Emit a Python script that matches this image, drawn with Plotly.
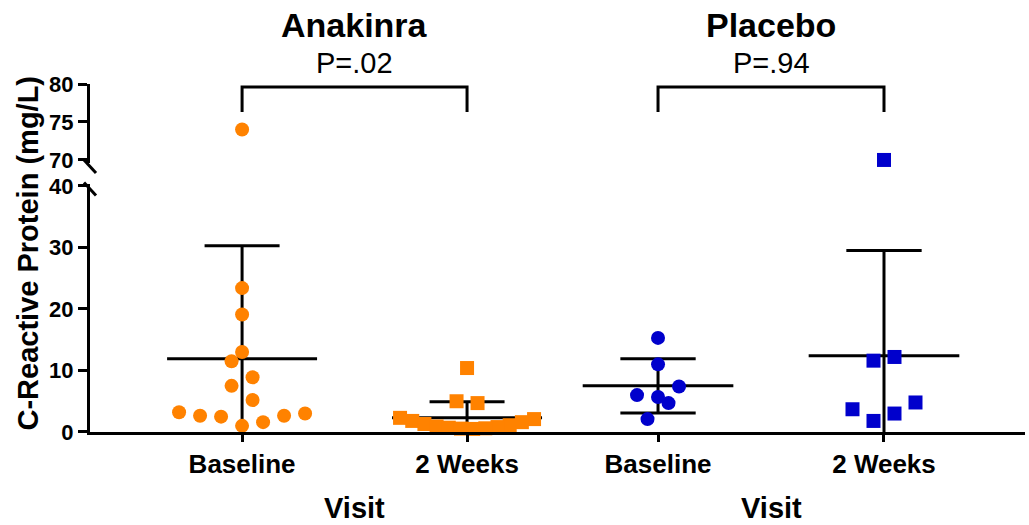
import plotly.graph_objects as go

# ---------------- data ----------------
GROUPS = ["Anakinra", "Placebo"]
VISITS = ["Baseline", "2 Weeks"]
P_VALUES = ["P=.02", "P=.94"]

anakinra_baseline = [74.0, 23.4, 19.1, 13.0, 11.5, 8.9, 7.5, 5.2, 3.2, 2.65, 2.5, 2.65, 3.0, 1.6, 1.0]
anakinra_week2 = [10.4, 5.0, 4.7, 2.3, 2.1, 1.8, 1.6, 1.3, 1.1, 0.9, 0.8, 0.7, 0.6, 0.55, 0.5]
placebo_baseline = [15.3, 11.0, 7.4, 6.0, 5.7, 4.7, 2.1]
placebo_week2 = [70.0, 12.2, 11.6, 4.8, 3.7, 3.0, 1.8]

anakinra_mean = [11.9, 2.3]
anakinra_sd = [18.4, 2.6]
placebo_mean = [7.5, 12.4]
placebo_sd = [4.4, 17.1]

lower_ticks = [0, 10, 20, 30, 40]
upper_ticks = [70, 75, 80]

# ---------------- layout constants ----------------
W, H = 1029, 525
ML, MR, MT, MB = 90, 4, 84, 93
PLOT_W = W - ML - MR
PLOT_H = H - MT - MB
LOWER_RANGE = [0, 40.4]
UPPER_RANGE = [69.6, 80]
LOWER_DOM = [0, 0.714]
UPPER_DOM = [0.773, 1]
SPLIT = 0.5048
X1_RANGE = [-0.676, 1.422]
X2_RANGE = [-0.425, 1.624]
ORANGE = "#FF8200"
BLUE = "#0000CC"
FONT = "Liberation Sans, Arial, sans-serif"
LW = 3
MEAN_HALF = 1 / 3
CAP_HALF = 1 / 6

lower_ppu = PLOT_H * (LOWER_DOM[1] - LOWER_DOM[0]) / (LOWER_RANGE[1] - LOWER_RANGE[0])
upper_ppu = PLOT_H * (UPPER_DOM[1] - UPPER_DOM[0]) / (UPPER_RANGE[1] - UPPER_RANGE[0])
x1_ppu = PLOT_W * SPLIT / (X1_RANGE[1] - X1_RANGE[0])
x2_ppu = PLOT_W * (1 - SPLIT) / (X2_RANGE[1] - X2_RANGE[0])


def y_px(v):
    if v <= LOWER_RANGE[1]:
        return v * lower_ppu
    return 1000 + (v - UPPER_RANGE[0]) * upper_ppu


def swarm(values, x_ppu, start, row_px=20, step_px=21, max_half_px=67):
    """Prism-like row arrangement: returns x offsets in data units."""
    order = sorted(range(len(values)), key=lambda i: values[i])
    rows, cur = [], []
    for i in order:
        if cur and y_px(values[i]) - y_px(values[cur[0]]) >= row_px:
            rows.append(cur)
            cur = []
        cur.append(i)
    rows.append(cur)
    off = [0.0] * len(values)
    for row in rows:
        m = len(row)
        step = step_px if m < 2 else min(step_px, 2 * max_half_px / (m - 1))
        for k, i in enumerate(row):
            if m % 2 == 1:
                slot = 0 if k == 0 else ((k + 1) // 2) * (1 if k % 2 == 1 else -1)
            else:
                slot = (k // 2 + 0.5) * (1 if k % 2 == 0 else -1)
            off[i] = start * slot * step / x_ppu
    return off


fig = go.Figure()

panels = [
    dict(name=GROUPS[0], xa="x", ppu=x1_ppu, color=ORANGE, start=1,
         data=[anakinra_baseline, anakinra_week2], mean=anakinra_mean, sd=anakinra_sd,
         symbols=["circle", "square"]),
    dict(name=GROUPS[1], xa="x2", ppu=x2_ppu, color=BLUE, start=-1,
         data=[placebo_baseline, placebo_week2], mean=placebo_mean, sd=placebo_sd,
         symbols=["circle", "square"]),
]

# error bars / means first (points drawn on top)
for p in panels:
    xs, ys = [], []
    for j, (m, s) in enumerate(zip(p["mean"], p["sd"])):
        xs += [j - MEAN_HALF, j + MEAN_HALF, None]
        ys += [m, m, None]
        xs += [j, j, None]
        ys += [m - s, m + s, None]
        xs += [j - CAP_HALF, j + CAP_HALF, None]
        ys += [m + s, m + s, None]
        xs += [j - CAP_HALF, j + CAP_HALF, None]
        ys += [m - s, m - s, None]
    fig.add_trace(go.Scatter(x=xs, y=ys, xaxis=p["xa"], yaxis="y", mode="lines",
                             line=dict(color="black", width=LW), showlegend=False,
                             hoverinfo="skip"))

for p in panels:
    for j, vals in enumerate(p["data"]):
        off = swarm(vals, p["ppu"], p["start"])
        lo_x = [j + o for v, o in zip(vals, off) if v <= LOWER_RANGE[1]]
        lo_y = [v for v in vals if v <= LOWER_RANGE[1]]
        hi_x = [j + o for v, o in zip(vals, off) if v > LOWER_RANGE[1]]
        hi_y = [v for v in vals if v > LOWER_RANGE[1]]
        mk = dict(color=p["color"], size=14, symbol=p["symbols"][j], line=dict(width=0))
        fig.add_trace(go.Scatter(x=lo_x, y=lo_y, xaxis=p["xa"], yaxis="y", mode="markers",
                                 marker=mk, cliponaxis=False, showlegend=False))
        if hi_y:
            fig.add_trace(go.Scatter(x=hi_x, y=hi_y, xaxis=p["xa"], yaxis="y2", mode="markers",
                                     marker=mk, cliponaxis=False, showlegend=False))

tickfont = dict(family=FONT, size=22, color="black", weight="bold")
xtickfont = dict(family=FONT, size=26, color="black", weight="bold")

xcommon = dict(showline=True, linecolor="black", linewidth=LW, ticks="outside",
               ticklen=7, tickwidth=LW, tickcolor="black", tickvals=[0, 1],
               ticktext=VISITS, tickfont=xtickfont, showgrid=False, zeroline=False,
               anchor="y", fixedrange=True, ticklabelstandoff=0)

fig.update_layout(
    width=W, height=H,
    margin=dict(l=ML, r=MR, t=MT, b=MB),
    paper_bgcolor="white", plot_bgcolor="white",
    xaxis=dict(domain=[0, SPLIT], range=X1_RANGE, **xcommon),
    xaxis2=dict(domain=[SPLIT, 1], range=X2_RANGE, **xcommon),
    yaxis=dict(domain=LOWER_DOM, range=LOWER_RANGE, tickvals=lower_ticks,
               showline=True, linecolor="black", linewidth=LW, ticks="outside",
               ticklen=9, tickwidth=LW, tickcolor="black", tickfont=tickfont,
               showgrid=False, zeroline=False, anchor="x", ticklabelstandoff=0),
    yaxis2=dict(domain=UPPER_DOM, range=UPPER_RANGE, tickvals=upper_ticks,
                showline=True, linecolor="black", linewidth=LW, ticks="outside",
                ticklen=9, tickwidth=LW, tickcolor="black", tickfont=tickfont,
                showgrid=False, zeroline=False, anchor="x", ticklabelstandoff=0),
    showlegend=False,
)

# axis break marks ("\" slashes at the segment ends)
bx = 6 / PLOT_W
for yc in [UPPER_DOM[0] - 3.5 / PLOT_H, LOWER_DOM[1] - 5.5 / PLOT_H]:
    fig.add_shape(type="line", xref="paper", yref="paper",
                  x0=-bx, x1=bx, y0=yc + 6.5 / PLOT_H, y1=yc - 6.5 / PLOT_H,
                  line=dict(color="black", width=LW))

# significance brackets
BR_TOP, BR_BOT = 79.6, 76.3
for p in panels:
    fig.add_shape(type="path", xref=p["xa"], yref="y2",
                  path=f"M 0,{BR_BOT} L 0,{BR_TOP} L 1,{BR_TOP} L 1,{BR_BOT}",
                  line=dict(color="black", width=LW))

for p, pv in zip(panels, P_VALUES):
    fig.add_annotation(text=p["name"], xref=p["xa"], x=0.5, yref="paper", y=1,
                       yanchor="middle", yshift=59, showarrow=False,
                       font=dict(family=FONT, size=34, color="black", weight="bold"))
    fig.add_annotation(text=pv, xref=p["xa"], x=0.5, yref="paper", y=1,
                       yanchor="middle", yshift=21, showarrow=False,
                       font=dict(family=FONT, size=29, color="black"))
    fig.add_annotation(text="Visit", xref=p["xa"], x=0.5, yref="paper", y=0,
                       yanchor="middle", yshift=-76, showarrow=False,
                       font=dict(family=FONT, size=29, color="black", weight="bold"))

fig.add_annotation(text="C-Reactive Protein (mg/L)", xref="paper", x=0, xshift=-62,
                   yref="paper", y=0.513, textangle=-90, showarrow=False,
                   xanchor="center", yanchor="middle",
                   font=dict(family=FONT, size=29, color="black", weight="bold"))

fig.write_html("out.html", config={"displayModeBar": False},
               post_script="document.body.style.margin='0px';")
